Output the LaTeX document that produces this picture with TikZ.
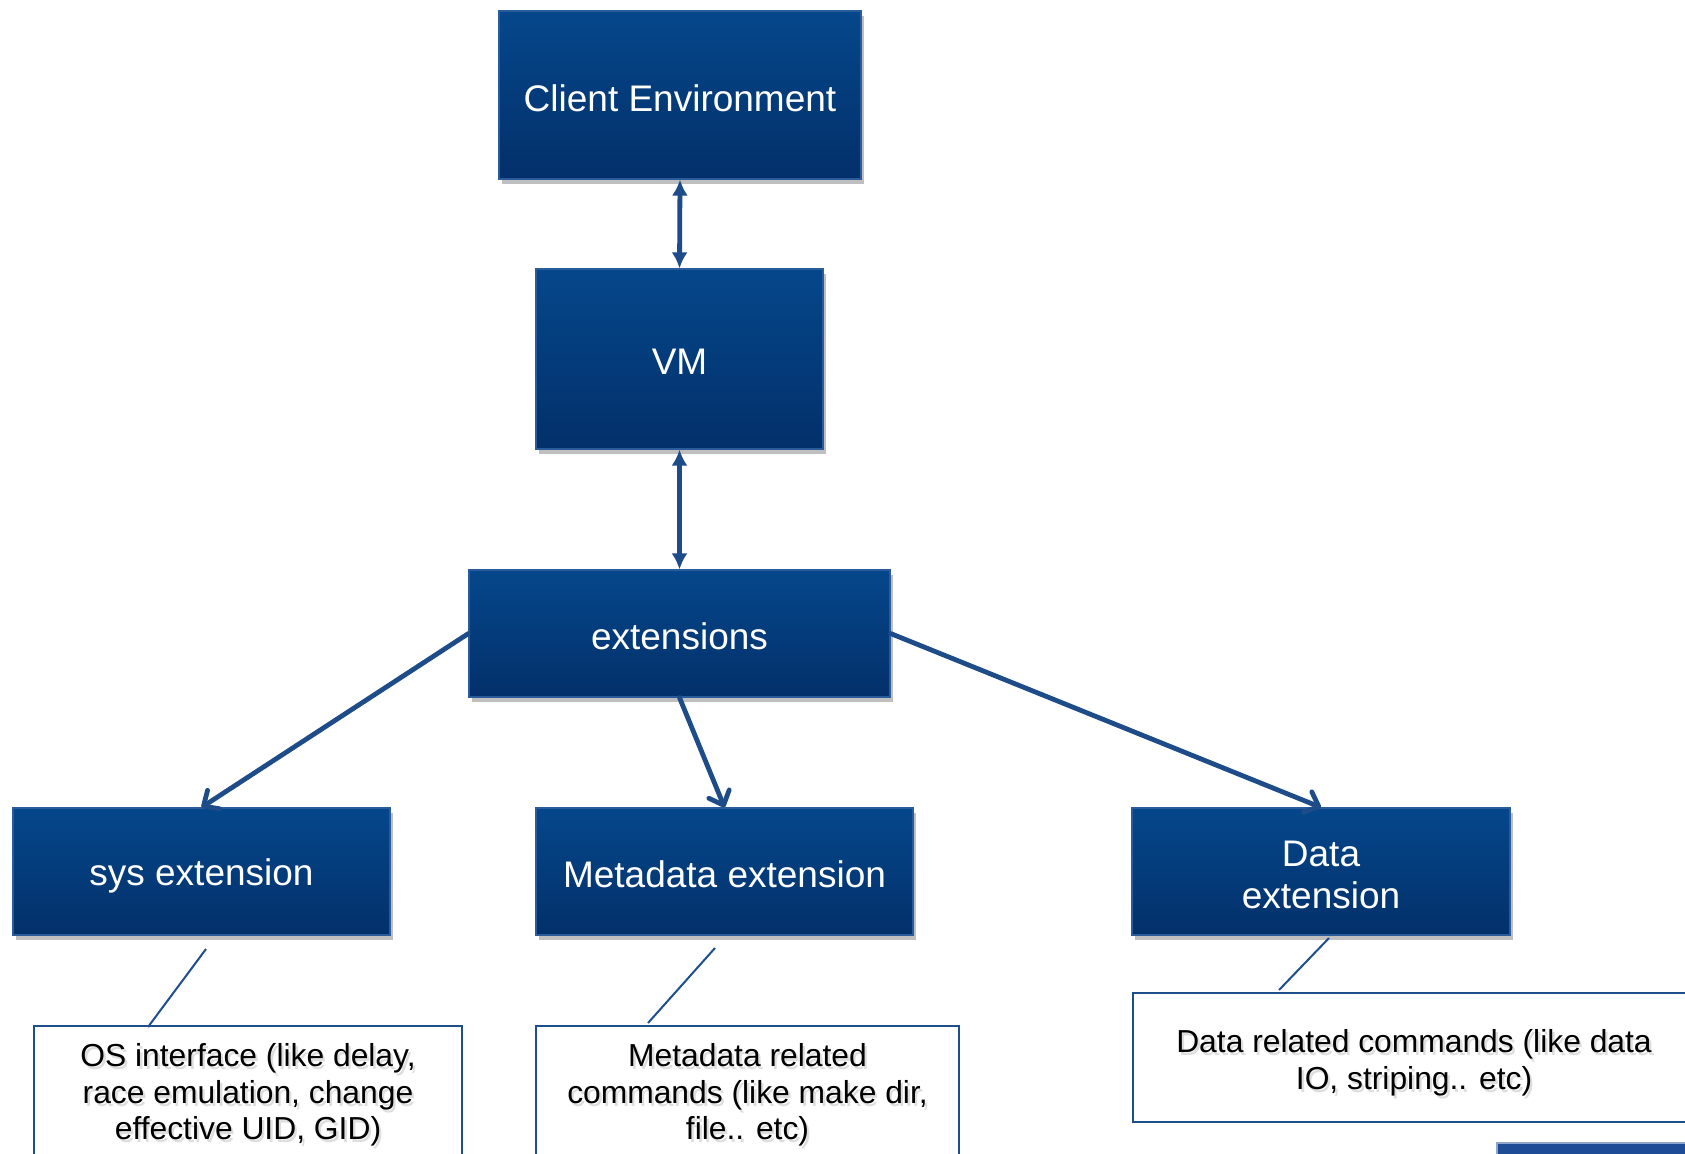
\documentclass[tikz,border=0pt]{standalone}
\usepackage{fontspec}
\setmainfont{Liberation Sans}
\usetikzlibrary{arrows.meta,shadows}
\definecolor{boxtop}{HTML}{05478B}
\definecolor{boxbot}{HTML}{03306A}
\definecolor{boxedge}{HTML}{2A5C9C}
\definecolor{linkblue}{HTML}{1D4C89}
\definecolor{frameblue}{HTML}{1F4E8C}
\definecolor{tailblue}{HTML}{1F4C97}

\begin{document}
\begin{tikzpicture}[x=0.5pt,y=-0.5pt,
  bluebox/.style={rectangle, draw=boxedge, line width=0.6pt,
    top color=boxtop, bottom color=boxbot, inner sep=0pt,
    drop shadow={shadow xshift=1.5pt, shadow yshift=-2.5pt, opacity=0.25, fill=black}},
  boxtext/.style={text=white, font=\fontsize{18.5}{21}\selectfont, align=center,
    inner sep=0pt, yshift=-1.6pt},
  notebox/.style={rectangle, draw=frameblue, line width=1.1pt, fill=white, inner sep=0pt},
  notetext/.style={font=\fontsize{15.9}{18.25}\selectfont, align=center, text=black, inner sep=0pt},
  textshade/.style={notetext, text opacity=0.13},
  link/.style={draw=linkblue, line width=2.4pt},
  twoway/.style={link, {Latex[length=8pt,width=8pt]}-{Latex[length=8pt,width=8pt]}},
  oneway/.style={link, line cap=round, -{Straight Barb[length=6pt,width=11pt,round]}},
  callout/.style={draw=frameblue, line width=1pt}
]
\useasboundingbox (0,0) rectangle (1685,1153);
\fill[white] (0,0) rectangle (1685,1153);
\clip (0,0) rectangle (1685,1153);

% main blocks
\node[bluebox, minimum width=181pt, minimum height=84pt,
  label={[boxtext]center:Client Environment}] (client) at (680,95) {};
\node[bluebox, minimum width=143.5pt, minimum height=90pt,
  label={[boxtext]center:VM}] (vm) at (679.5,359) {};
\node[bluebox, minimum width=210.5pt, minimum height=63.5pt,
  label={[boxtext]center:extensions}] (ext) at (679.5,633.5) {};
\node[bluebox, minimum width=188.5pt, minimum height=63.5pt,
  label={[boxtext, yshift=-0.6pt]center:sys extension}] (sys) at (201.5,871.5) {};
\node[bluebox, minimum width=188.5pt, minimum height=63.5pt,
  label={[boxtext]center:Metadata extension}] (meta) at (724.5,871.5) {};
\node[bluebox, minimum width=189pt, minimum height=63.5pt,
  label={[boxtext]center:Data\\extension}] (data) at (1321,871.5) {};

% description boxes
\node[notebox, minimum width=214pt, minimum height=67pt] (osbox) at (248,1093) {};
\node[textshade] (osshade) at (250.4,1098) {OS interface (like delay,\\race emulation, change\\effective UID, GID)};
\node[notetext] (ostext) at (248,1095) {OS interface (like delay,\\race emulation, change\\effective UID, GID)};

\node[notebox, minimum width=211.5pt, minimum height=67pt] (mdbox) at (747.5,1093) {};
\node[textshade] (mdshade) at (749.9,1098) {Metadata related\\commands (like make dir,\\file.. etc)};
\node[notetext] (mdtext) at (747.5,1095) {Metadata related\\commands (like make dir,\\file.. etc)};

\node[notebox, minimum width=281pt, minimum height=64.5pt] (drbox) at (1414,1057.5) {};
\node[textshade] (drshade) at (1416.4,1066) {Data related commands (like data\\IO, striping.. etc)};
\node[notetext] (drtext) at (1414,1063) {Data related commands (like data\\IO, striping.. etc)};

% next block, only its top edge shows
\node[rectangle, fill=tailblue, draw=tailblue!50!white, line width=0.8pt,
  minimum width=120pt, minimum height=40pt, anchor=north west] (tail) at (1496,1142) {};

% connectors
\draw[twoway] (client.south) -- (vm.north);
\draw[twoway] (vm.south) -- (ext.north);
\draw[oneway] (ext.west) -- (sys.north);
\draw[oneway] (ext.south) -- (meta.north);
\draw[oneway] (ext.east) -- (data.north);

% callout lines
\coordinate (sysfoot) at (206,949);
\coordinate (osneck) at (148,1027);
\coordinate (metafoot) at (715,948);
\coordinate (mdneck) at (648,1023);
\coordinate (datafoot) at (1329,938);
\coordinate (drneck) at (1279,990);
\draw[callout] (sysfoot) -- (osneck);
\draw[callout] (metafoot) -- (mdneck);
\draw[callout] (datafoot) -- (drneck);
\end{tikzpicture}
\end{document}
